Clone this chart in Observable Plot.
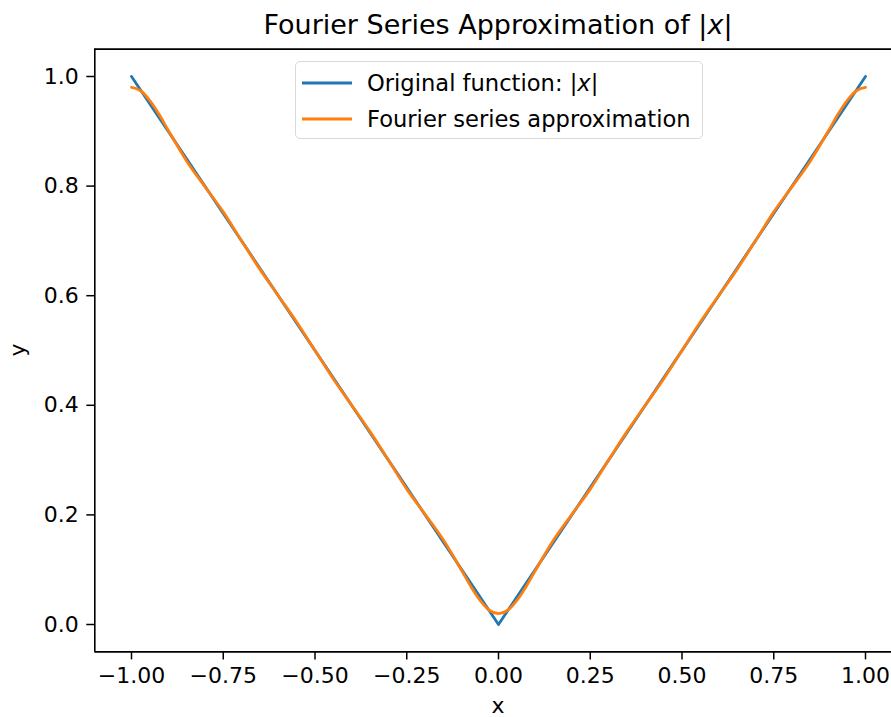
<!DOCTYPE html>
<html>
<head>
<meta charset="utf-8">
<script src="https://cdn.jsdelivr.net/npm/d3@7"></script>
<script src="https://cdn.jsdelivr.net/npm/@observablehq/plot@0.6"></script>
<style>
  html, body { margin: 0; padding: 0; background: #fff; overflow: hidden; }
  #wrap { position: relative; width: 891px; height: 717px; overflow: hidden; font-family: "DejaVu Sans", sans-serif; }
  #title { position: absolute; left: 0; width: 996px; top: 9px; text-align: center; font-size: 27px; color: #000; white-space: nowrap; line-height: 1.2; }
  #legend { position: absolute; left: 295px; top: 61px; width: 408px; height: 78px; border: 1.5px solid #d9d9d9; border-radius: 5px; background: rgba(255,255,255,0.85); box-sizing: border-box; }
  .item { position: absolute; left: 6px; height: 30px; display: flex; align-items: center; font-size: 22.6px; color: #000; white-space: nowrap; }
  .item svg { margin-right: 15px; }
</style>
</head>
<body>
<div id="wrap">
  <div id="chart"></div>
  <div id="title">Fourier Series Approximation of |<i>x</i>|</div>
  <div id="legend"></div>
</div>
<script>
// Original function |x|
const origX = [-1, 0, 1];
const origY = [1, 0, 1];

// Fourier series approximation
const approxX = [-1, -0.975, -0.95, -0.925, -0.9, -0.85, -0.8, -0.75, -0.7, -0.65, -0.6, -0.55, -0.5,
  -0.45, -0.4, -0.35, -0.3, -0.25, -0.2, -0.15, -0.1, -0.075, -0.05, -0.025, 0,
  0.025, 0.05, 0.075, 0.1, 0.15, 0.2, 0.25, 0.3, 0.35, 0.4, 0.45, 0.5,
  0.55, 0.6, 0.65, 0.7, 0.75, 0.8, 0.85, 0.9, 0.925, 0.95, 0.975, 1];
const approxY = [0.980, 0.974, 0.956, 0.931, 0.902, 0.846, 0.799, 0.753, 0.700, 0.648, 0.600, 0.552, 0.500,
  0.448, 0.400, 0.352, 0.300, 0.247, 0.201, 0.154, 0.098, 0.069, 0.044, 0.026, 0.020,
  0.026, 0.044, 0.069, 0.098, 0.154, 0.201, 0.247, 0.300, 0.352, 0.400, 0.448, 0.500,
  0.552, 0.600, 0.648, 0.700, 0.753, 0.799, 0.846, 0.902, 0.931, 0.956, 0.974, 0.980];

const xTicks = [-1, -0.75, -0.5, -0.25, 0, 0.25, 0.5, 0.75, 1];
const yTicks = [0, 0.2, 0.4, 0.6, 0.8, 1.0];

const seriesNames = ["Original function: |x|", "Fourier series approximation"];
const seriesColors = ["#1f77b4", "#ff7f0e"];

const orig = origX.map((x, i) => ({x, y: origY[i]}));
const approx = approxX.map((x, i) => ({x, y: approxY[i]}));

const W = 891, H = 717;
const mL = 94.3, mT = 48.6, mB = 65.6;

const plot = Plot.plot({
  width: W,
  height: H,
  marginLeft: mL,
  marginRight: 0,
  marginTop: mT,
  marginBottom: mB,
  style: {fontFamily: "DejaVu Sans", fontSize: "22px", background: "#fff", color: "#000", overflow: "hidden"},
  x: {domain: [-1.1, 1.1], range: [mL, 901.7]},
  y: {domain: [-0.05, 1.05]},
  marks: [
    Plot.line(orig, {x: "x", y: "y", stroke: seriesColors[0], strokeWidth: 2.8, curve: "linear"}),
    Plot.line(approx, {x: "x", y: "y", stroke: seriesColors[1], strokeWidth: 2.8, curve: "monotone-x"}),
    Plot.axisX({ticks: xTicks, tickFormat: d3.format(".2f"), tickSize: 8, tickPadding: 7, fontSize: 22, label: null, strokeWidth: 1.5}),
    Plot.axisY({ticks: yTicks, tickFormat: d3.format(".1f"), tickSize: 8, tickPadding: 8, fontSize: 22, label: null, strokeWidth: 1.5}),
    Plot.ruleX([-1.1], {stroke: "#000", strokeWidth: 1.6}),
    Plot.ruleY([-0.05], {stroke: "#000", strokeWidth: 1.6}),
    Plot.ruleY([1.05], {stroke: "#000", strokeWidth: 1.6})
  ]
});
document.getElementById("chart").appendChild(plot);

// axis labels
const svg = d3.select(plot);
svg.append("text").attr("x", 498).attr("y", 713).attr("text-anchor", "middle")
  .attr("font-size", 22).attr("font-family", "DejaVu Sans").attr("fill", "#000").text("x");
svg.append("text").attr("transform", "translate(25,350) rotate(-90)").attr("text-anchor", "middle")
  .attr("font-size", 22).attr("font-family", "DejaVu Sans").attr("fill", "#000").text("y");

// legend
const leg = document.getElementById("legend");
seriesNames.forEach((name, i) => {
  const div = document.createElement("div");
  div.className = "item";
  div.style.top = (6 + i * 36) + "px";
  const label = name.replace("|x|", "|<i>x</i>|");
  div.innerHTML = `<svg width="50" height="10"><line x1="0" x2="50" y1="5" y2="5" stroke="${seriesColors[i]}" stroke-width="2.8"/></svg><span>${label}</span>`;
  leg.appendChild(div);
});
</script>
</body>
</html>
